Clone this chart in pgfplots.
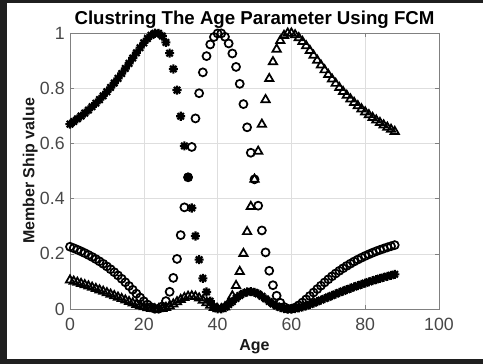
\documentclass[border=0pt]{standalone}
\usepackage{fontspec}
\setmainfont{Liberation Sans}
\usepackage{pgfplots}
\pgfplotsset{compat=1.18}
\usepackage{pgfplotstable}

\pgfdeclareplotmark{mstar}{%
 \pgfpathmoveto{\pgfqpoint{0pt}{\pgfplotmarksize}}\pgfpathlineto{\pgfqpoint{0pt}{-\pgfplotmarksize}}%
 \pgfpathmoveto{\pgfqpoint{\pgfplotmarksize}{0pt}}\pgfpathlineto{\pgfqpoint{-\pgfplotmarksize}{0pt}}%
 \pgfpathmoveto{\pgfqpoint{0.7071\pgfplotmarksize}{0.7071\pgfplotmarksize}}\pgfpathlineto{\pgfqpoint{-0.7071\pgfplotmarksize}{-0.7071\pgfplotmarksize}}%
 \pgfpathmoveto{\pgfqpoint{-0.7071\pgfplotmarksize}{0.7071\pgfplotmarksize}}\pgfpathlineto{\pgfqpoint{0.7071\pgfplotmarksize}{-0.7071\pgfplotmarksize}}%
 \pgfusepathqstroke}

\pgfplotstableread{
x u1 u2 u3
0 0.6699 0.2256 0.1045
1 0.6792 0.2204 0.1004
2 0.6889 0.2148 0.0963
3 0.6991 0.2089 0.0920
4 0.7098 0.2026 0.0876
5 0.7211 0.1958 0.0831
6 0.7330 0.1886 0.0784
7 0.7455 0.1809 0.0736
8 0.7587 0.1726 0.0687
9 0.7726 0.1637 0.0637
10 0.7872 0.1542 0.0586
11 0.8026 0.1441 0.0533
12 0.8187 0.1333 0.0480
13 0.8356 0.1218 0.0426
14 0.8532 0.1096 0.0372
15 0.8714 0.0968 0.0318
16 0.8902 0.0834 0.0264
17 0.9092 0.0696 0.0212
18 0.9282 0.0555 0.0163
19 0.9469 0.0415 0.0116
20 0.9643 0.0281 0.0076
21 0.9798 0.0161 0.0041
22 0.9919 0.0065 0.0016
23 0.9990 0.0008 0.0002
24 0.9989 0.0009 0.0002
25 0.9889 0.0093 0.0018
26 0.9659 0.0287 0.0054
27 0.9269 0.0623 0.0108
28 0.8696 0.1127 0.0177
29 0.7929 0.1814 0.0257
30 0.6984 0.2677 0.0339
31 0.5908 0.3683 0.0409
32 0.4772 0.4772 0.0456
33 0.3659 0.5871 0.0470
34 0.2646 0.6905 0.0449
35 0.1788 0.7818 0.0394
36 0.1111 0.8574 0.0315
37 0.0616 0.9162 0.0222
38 0.0285 0.9585 0.0130
39 0.0092 0.9855 0.0053
40 0.0009 0.9984 0.0007
41 0.0008 0.9985 0.0007
42 0.0065 0.9863 0.0072
43 0.0158 0.9621 0.0221
44 0.0270 0.9258 0.0472
45 0.0384 0.8771 0.0845
46 0.0487 0.8158 0.1355
47 0.0568 0.7424 0.2008
48 0.0617 0.6583 0.2800
49 0.0629 0.5661 0.3710
50 0.0604 0.4698 0.4698
51 0.0546 0.3743 0.5711
52 0.0463 0.2846 0.6691
53 0.0368 0.2050 0.7582
54 0.0271 0.1385 0.8344
55 0.0183 0.0862 0.8955
56 0.0109 0.0480 0.9411
57 0.0054 0.0223 0.9723
58 0.0019 0.0073 0.9908
59 0.0002 0.0007 0.9991
60 0.0002 0.0007 0.9992
61 0.0016 0.0053 0.9931
62 0.0041 0.0133 0.9826
63 0.0076 0.0235 0.9689
64 0.0118 0.0350 0.9533
65 0.0165 0.0472 0.9364
66 0.0215 0.0597 0.9188
67 0.0268 0.0722 0.9010
68 0.0322 0.0844 0.8834
69 0.0378 0.0962 0.8660
70 0.0433 0.1076 0.8491
71 0.0488 0.1184 0.8328
72 0.0543 0.1287 0.8171
73 0.0597 0.1384 0.8020
74 0.0649 0.1475 0.7875
75 0.0701 0.1562 0.7737
76 0.0751 0.1643 0.7606
77 0.0800 0.1720 0.7480
78 0.0848 0.1791 0.7361
79 0.0895 0.1859 0.7246
80 0.0940 0.1923 0.7138
81 0.0984 0.1982 0.7034
82 0.1026 0.2039 0.6935
83 0.1067 0.2092 0.6841
84 0.1107 0.2142 0.6751
85 0.1146 0.2189 0.6665
86 0.1184 0.2233 0.6583
87 0.1220 0.2275 0.6505
88 0.1255 0.2315 0.6430
}\fcmdata

\begin{document}
\begin{tikzpicture}
\path[use as bounding box] (-52.5pt,-41.25pt) rectangle (309.75pt,231.75pt);
\begin{axis}[
  at={(0pt,0pt)}, anchor=south west,
  scale only axis, width=276.75pt, height=207pt,
  xmin=0, xmax=100, ymin=0, ymax=1,
  xtick={0,20,40,60,80,100},
  ytick={0,0.2,0.4,0.6,0.8,1},
  grid=major, grid style={color=black!13, line width=0.4pt},
  axis line style={black!50, line width=0.5pt},
  tick style={black!50}, tick align=inside, major tick length=3pt,
  tick label style={font=\fontsize{13.3}{15}\selectfont, color=black!72},
  xticklabel style={yshift=-3.5pt},
  yticklabel style={xshift=-0.5pt},
  /pgf/number format/assume math mode=true,
  clip=false,
  every axis title shift=0pt,
  title={Clustring The Age Parameter Using FCM},
  title style={font=\bfseries\fontsize{14}{16}\selectfont, at={(axis description cs:0.5,1.029)}, anchor=base, inner sep=0pt},
  xlabel={Age},
  ylabel={Member Ship value},
  label style={font=\bfseries\fontsize{12}{14}\selectfont, color=black!90},
  xlabel style={at={(axis description cs:0.5,-0.1486)}, anchor=base, inner sep=0pt},
  ylabel style={at={(axis description cs:-0.0962,0.5)}, anchor=base, inner sep=0pt},
]
\addplot[only marks, black, mark=mstar, mark size=3.4pt, mark options={solid, line width=1.6pt}] table[x=x, y=u1] {\fcmdata};
\addplot[only marks, black, mark=o, mark size=3pt, mark options={solid, line width=1.3pt}] table[x=x, y=u2] {\fcmdata};
\addplot[only marks, black, mark=triangle, mark size=3.6pt, mark options={solid, line width=1.3pt}] table[x=x, y=u3] {\fcmdata};
\end{axis}
\fill[black!88] (-52.5pt,-41.25pt) rectangle (-47.25pt,231.75pt);
\fill[black!88] (-52.5pt,229.5pt) rectangle (309.75pt,231.75pt);
\fill[black!88] (-52.5pt,-41.25pt) rectangle (309.75pt,-37.5pt);
\end{tikzpicture}
\end{document}
